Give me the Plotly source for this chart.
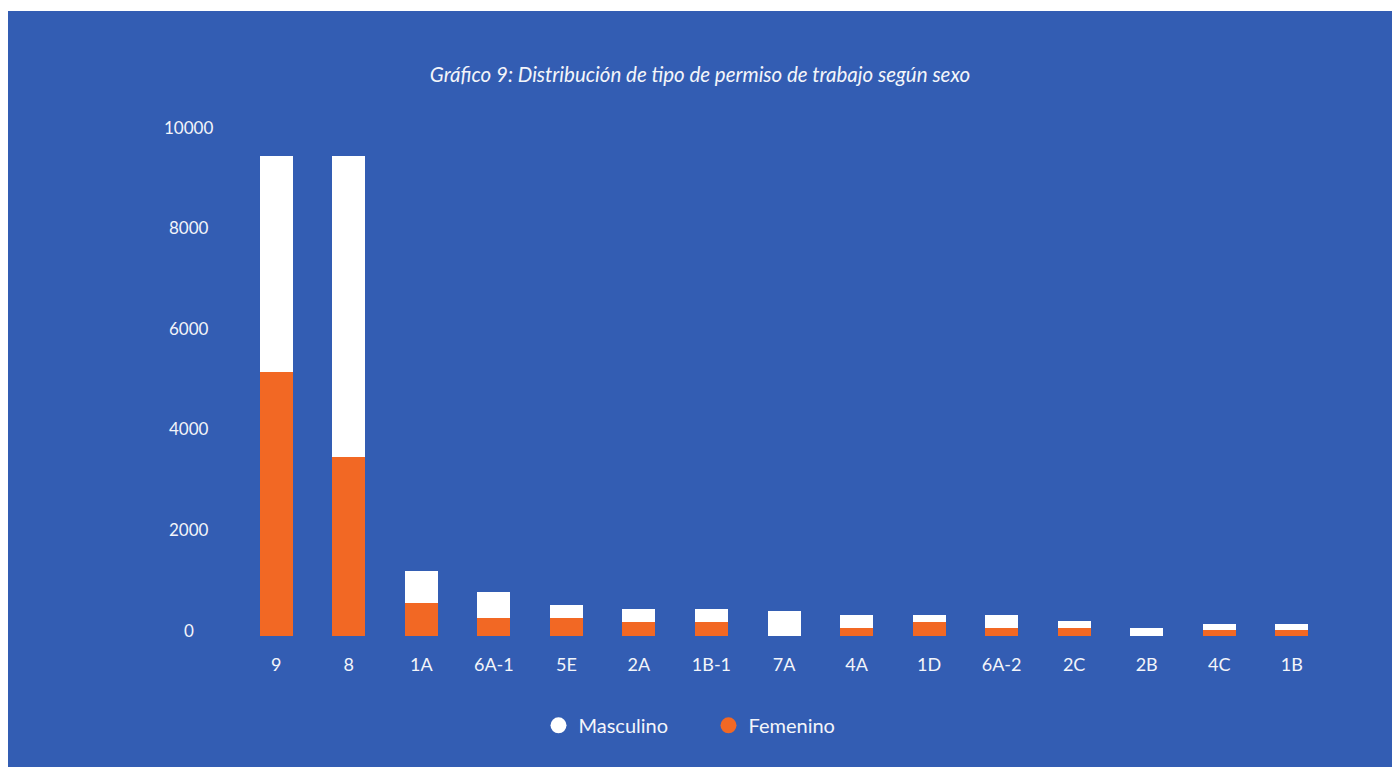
import plotly.graph_objects as go

categories = ["9", "8", "1A", "6A-1", "5E", "2A", "1B-1", "7A", "4A", "1D", "6A-2", "2C", "2B", "4C", "1B"]
femenino = [5250, 3550, 650, 350, 350, 270, 270, 0, 150, 270, 150, 150, 0, 110, 110]
masculino = [4290, 5990, 650, 515, 275, 275, 275, 505, 275, 140, 275, 140, 150, 120, 120]
y_ticks = [0, 2000, 4000, 6000, 8000, 10000]
y_tick_labels = ["0", "2000", "4000", "6000", "8000", "10000"]

BG = "#335DB3"
ORANGE = "#F26824"
WHITE = "#FFFFFF"
TEXT = "#F3F5FA"
FONT = "Lato"

fig = go.Figure()
fig.add_trace(go.Bar(x=categories, y=femenino, name="Femenino", marker_color=ORANGE,
                     marker_line_width=0, showlegend=False))
fig.add_trace(go.Bar(x=categories, y=masculino, name="Masculino", marker_color=WHITE,
                     marker_line_width=0, showlegend=False))
# legend entries with round markers
fig.add_trace(go.Scatter(x=[None], y=[None], mode="markers", name="Masculino",
                         marker=dict(symbol="circle", size=17, color=WHITE)))
fig.add_trace(go.Scatter(x=[None], y=[None], mode="markers", name="Femenino",
                         marker=dict(symbol="circle", size=17, color=ORANGE)))

# centred y tick labels
for v, t in zip(y_ticks, y_tick_labels):
    fig.add_annotation(x=-0.0469, xref="paper", y=v, yref="y", text=t, showarrow=False,
                       xanchor="center", yanchor="middle", yshift=6,
                       font=dict(family=FONT, size=17, color=TEXT))

fig.update_layout(
    width=1384, height=756,
    paper_bgcolor=BG, plot_bgcolor=BG,
    barmode="stack", bargap=0.545,
    margin=dict(l=232, r=64, t=121.5, b=130.5),
    font=dict(family=FONT, size=17, color=TEXT),
    title=dict(text="<i>Gráfico 9: Distribución de tipo de permiso de trabajo según sexo</i>",
               x=0.5, xanchor="center", y=1 - 64 / 756, yanchor="middle",
               font=dict(family=FONT, size=20.5, color=TEXT)),
    xaxis=dict(showgrid=False, zeroline=False, showline=False, ticks="",
               ticklabelstandoff=16, tickfont=dict(size=18, color=TEXT)),
    yaxis=dict(range=[0, 10000], tickvals=y_ticks, showticklabels=False, showgrid=False,
               zeroline=False, showline=False, ticks=""),
    legend=dict(orientation="h", x=0.4306, xanchor="center", y=-(715 - 625.5) / 504,
                yanchor="middle", entrywidth=125, traceorder="normal",
                font=dict(size=20, color=TEXT), bgcolor="rgba(0,0,0,0)"),
)

post = ("document.body.style.margin='0px';"
        "var d=document.getElementById('{plot_id}');"
        "d.style.marginLeft='8px';d.style.marginTop='11px';")
fig.write_html("out.html", post_script=post)
